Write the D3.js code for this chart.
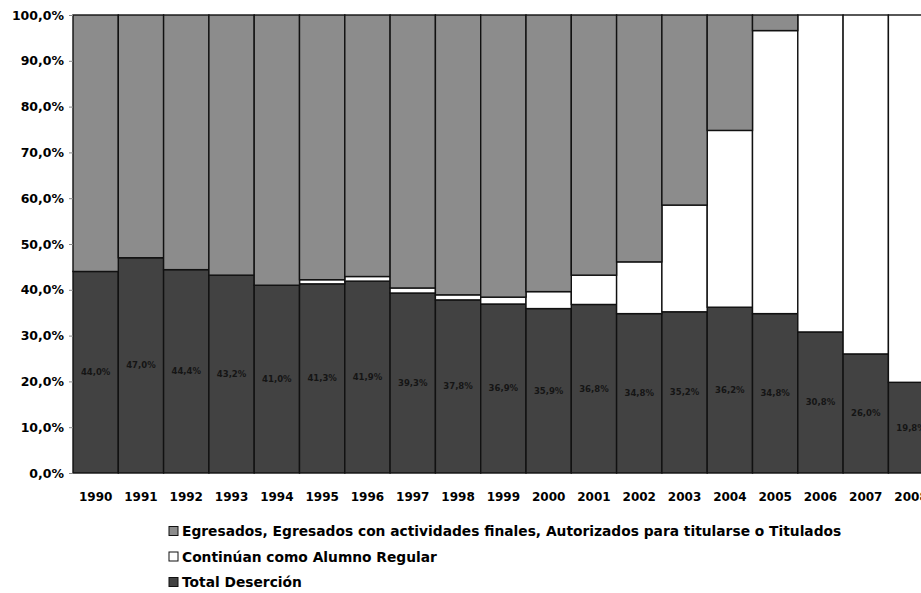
<!DOCTYPE html>
<html>
<head>
<meta charset="utf-8">
<script src="https://cdn.jsdelivr.net/npm/d3@7"></script>
<style>
  body { margin: 0; background: #fff; }
  svg { display: block; font-family: "DejaVu Sans", sans-serif; font-weight: bold; }
</style>
</head>
<body>
<div id="chart"></div>
<script>
// Data (percent of each cohort)
const years = ['1990', '1991', '1992', '1993', '1994', '1995', '1996', '1997', '1998', '1999',
  '2000', '2001', '2002', '2003', '2004', '2005', '2006', '2007', '2008']
const desercion = [44.0, 47.0, 44.4, 43.2, 41.0, 41.3, 41.9, 39.3, 37.8, 36.9,
  35.9, 36.8, 34.8, 35.2, 36.2, 34.8, 30.8, 26.0, 19.8]
const continuan = [0, 0, 0, 0, 0, 0.9, 1.0, 1.1, 1.1, 1.5,
  3.7, 6.4, 11.3, 23.3, 38.6, 61.8, 69.2, 74.0, 80.2]
const egresados = years.map((y, i) => +(100 - desercion[i] - continuan[i]).toFixed(1))
const yTicks = [0, 10, 20, 30, 40, 50, 60, 70, 80, 90, 100]
const seriesNames = [
  'Egresados, Egresados con actividades finales, Autorizados para titularse o Titulados',
  'Continúan como Alumno Regular',
  'Total Deserción'
]

const width = 921
const height = 593
const colors = { des: '#424242', con: '#ffffff', egr: '#8c8c8c' }

const svg = d3.select('#chart')
  .append('svg')
  .attr('width', width)
  .attr('height', height)

// table for the stack
const table = years.map((y, i) => ({ year: y, des: desercion[i], con: continuan[i], egr: egresados[i] }))
const stack = d3.stack().keys(['des', 'con', 'egr'])(table)

const x = d3.scaleBand().domain(years).range([73, 73 + 45.3 * years.length]).padding(0)
const y = d3.scaleLinear().domain([0, 100]).range([473, 15])

// bars
svg.append('g')
  .selectAll('g')
  .data(stack)
  .enter().append('g')
  .attr('fill', d => colors[d.key])
  .selectAll('rect')
  .data(d => d)
  .enter().append('rect')
  .attr('x', d => x(d.data.year))
  .attr('y', d => y(d[1]))
  .attr('width', x.bandwidth())
  .attr('height', d => y(d[0]) - y(d[1]))
  .attr('stroke', '#111')
  .attr('stroke-width', 1.4)

// data labels on deserción (almost lost in the dark fill, as in the scan)
svg.append('g')
  .selectAll('text')
  .data(table)
  .enter().append('text')
  .attr('x', d => x(d.year) + x.bandwidth() / 2)
  .attr('y', d => y(d.des / 2))
  .attr('dy', '0.35em')
  .attr('text-anchor', 'middle')
  .attr('font-size', 8.5)
  .attr('fill', '#151515')
  .text(d => d3.format('.1f')(d.des).replace('.', ',') + '%')

// y axis
const yAxis = svg.append('g')
  .attr('transform', 'translate(73,0)')
  .call(d3.axisLeft(y).tickValues(yTicks).tickSize(4).tickPadding(5)
    .tickFormat(d => d3.format('.1f')(d).replace('.', ',') + '%'))
yAxis.select('.domain').remove()
yAxis.selectAll('line').attr('stroke', '#888')
yAxis.selectAll('text')
  .attr('font-family', '"DejaVu Sans", sans-serif')
  .attr('font-weight', 'bold')
  .attr('font-size', 12.5)
  .attr('fill', '#000')

// x axis
const xAxis = svg.append('g')
  .attr('transform', 'translate(0,473)')
  .call(d3.axisBottom(x).tickSize(0).tickPadding(19))
xAxis.select('.domain').remove()
xAxis.selectAll('text')
  .attr('font-family', '"DejaVu Sans", sans-serif')
  .attr('font-weight', 'bold')
  .attr('font-size', 12)
  .attr('fill', '#000')

// legend
const legendFill = [colors.egr, colors.con, colors.des]
const legend = svg.append('g')
  .attr('transform', 'translate(169,531)')
const item = legend.selectAll('g')
  .data(seriesNames)
  .enter().append('g')
  .attr('transform', (d, i) => `translate(0, ${i * 25.5})`)
item.append('rect')
  .attr('x', 0)
  .attr('y', -4.5)
  .attr('width', 9)
  .attr('height', 9)
  .attr('fill', (d, i) => legendFill[i])
  .attr('stroke', '#111')
  .attr('stroke-width', 1)
item.append('text')
  .attr('x', 13)
  .attr('dy', '0.38em')
  .attr('font-size', 13.8)
  .attr('fill', '#000')
  .text(d => d)
</script>
</body>
</html>
